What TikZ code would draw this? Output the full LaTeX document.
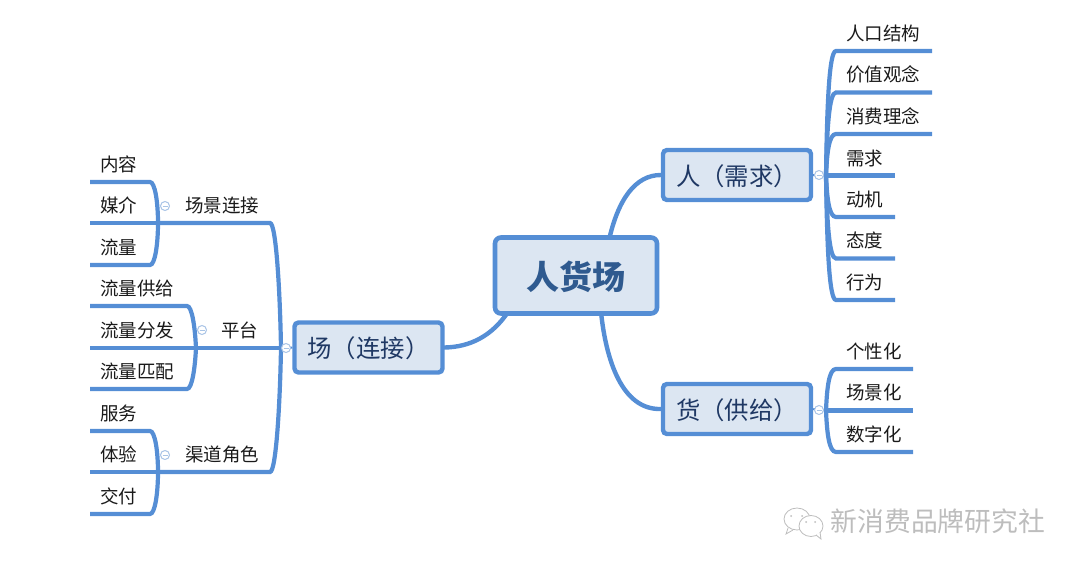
\documentclass[tikz,border=0pt]{standalone}
\usepackage{fontspec}
\setmainfont{Noto Sans CJK SC}
\definecolor{linec}{HTML}{558ED5}
\definecolor{boxfill}{HTML}{DCE6F2}
\definecolor{titlec}{HTML}{2F5A8F}
\definecolor{branchc}{HTML}{1F3864}
\definecolor{leafc}{HTML}{1A1A1A}
\definecolor{markc}{HTML}{A9C4E6}
\definecolor{wmc}{HTML}{BDBDBD}
\pgfdeclarelayer{back}
\pgfsetlayers{back,main}
\newcommand{\nudge}[1]{\raisebox{-1pt}[\height][\depth]{#1}}
\tikzset{
  rootbox/.style={draw=linec,fill=boxfill,line width=4.6pt,rounded corners=6pt,minimum width=162pt,minimum height=76pt,inner sep=0pt,text=titlec,font=\fontsize{33}{33}\selectfont\bfseries},
  branchbox/.style={draw=linec,fill=boxfill,line width=4.4pt,rounded corners=4pt,minimum width=148pt,minimum height=50pt,inner sep=0pt,text=branchc,font=\fontsize{24.4}{24.4}\selectfont},
  leaftext/.style={anchor=base west,inner sep=0pt,text=leafc,font=\fontsize{18.5}{18.5}\selectfont},
  conn/.style={draw=linec,line width=4.4pt,line cap=round},
  tree/.style={draw=linec,line width=4.2pt},
  collapse/.style={circle,draw=markc,fill=white,line width=1pt,minimum size=9pt,inner sep=0pt,path picture={\draw[markc,line width=.9pt] ([xshift=-2.5pt]path picture bounding box.center)--([xshift=2.5pt]path picture bounding box.center);}},
  wmtext/.style={anchor=base west,inner sep=0pt,text=wmc,font=\fontsize{26.8}{26.8}\selectfont}
}
\begin{document}
\begin{tikzpicture}[x=1pt,y=-1pt]
\useasboundingbox (0,0) rectangle (1080,570);
% main nodes
\node[rootbox] (root) at (576,275.5) {\nudge{人货场}};
\node[branchbox] (ren) at (737,175) {\nudge{人（需求）}};
\node[branchbox] (huo) at (737,409) {\nudge{货（供给）}};
\node[branchbox] (chang) at (368.5,347.5) {\nudge{场（连接）}};
% junctions
\coordinate (jr) at (826,175.5);
\coordinate (jg) at (826,410.5);
\coordinate (jc) at (281,348);
% trees: right
\foreach \n/\y/\xe/\ty/\t in {a1/51/932/40/人口结构,a2/92.5/932/81.5/价值观念,a3/134/932/123/消费理念,a5/217/895/206/动机,a6/258.5/895/247.5/态度,a7/300/895/289/行为}{
  \coordinate (\n s) at (836,\y);
  \coordinate (\n e) at (\xe,\y);
  \node[leaftext] (\n t) at (846,\ty) {\t};
  \draw[tree] (jr) .. controls (827,{0.55*\y+0.45*175}) and (829,\y) .. (\n s) -- (\n e);
}
\coordinate (a4e) at (895,175.5);
\node[leaftext] (a4t) at (846,165) {需求};
\draw[tree] (jr) -- (a4e);
\foreach \n/\y/\ty/\t in {b1/369/358/个性化,b3/452/441/数字化}{
  \coordinate (\n s) at (836,\y);
  \coordinate (\n e) at (913,\y);
  \node[leaftext] (\n t) at (846,\ty) {\t};
  \draw[tree] (jg) .. controls (827,{0.55*\y+0.45*410}) and (829,\y) .. (\n s) -- (\n e);
}
\coordinate (b2e) at (913,410.5);
\node[leaftext] (b2t) at (846,399.5) {场景化};
\draw[tree] (jg) -- (b2e);
% trees: left leaves
\foreach \n/\jx/\jy/\xe/\y/\t in {c1/158/223/150/182/内容,c3/158/223/150/265/流量,d1/196/348/187/306/流量供给,d3/196/348/187/389/流量匹配,e1/158/472/150/431/服务,e3/158/472/150/514/交付}{
  \coordinate (\n s) at (90,\y);
  \coordinate (\n e) at (\xe,\y);
  \node[leaftext] (\n t) at (100,{\y-11}) {\t};
  \draw[tree] (\n s) -- (\n e) .. controls ({\xe+5},\y) and ({\xe+8},{0.5*\y+0.5*\jy}) .. (\jx,\jy);
}
\foreach \n/\xe/\y/\t in {c2/158/223/媒介,d2/196/348/流量分发,e2/158/472/体验}{
  \coordinate (\n s) at (90,\y);
  \coordinate (\n e) at (\xe,\y);
  \node[leaftext] (\n t) at (100,{\y-11}) {\t};
  \draw[tree] (\n s) -- (\n e);
}
% left sub-branches
\node[leaftext] (ct) at (185,212) {场景连接};
\node[leaftext] (dt) at (221,337) {平台};
\node[leaftext] (et) at (185,461) {渠道角色};
\coordinate (cs) at (158,223);\coordinate (cm) at (270,223);
\coordinate (ds) at (196,348);
\coordinate (es) at (158,472);\coordinate (em) at (270,472);
\draw[tree] (cs) -- (cm) .. controls (276,223) and (280,290) .. (jc);
\draw[tree] (es) -- (em) .. controls (276,472) and (280,405) .. (jc);
\draw[tree] (ds) -- (jc);
% connectors behind the boxes
\begin{pgfonlayer}{back}
\draw[conn] (609,240) .. controls (618,200) and (635,175) .. (ren.west);
\draw[conn] (601,312) .. controls (606,360) and (622,410) .. (huo.west);
\draw[conn] (508,312) .. controls (492,336) and (470,347) .. (chang.east);
\draw[draw=linec,line width=2pt] (ren.east) -- (jr);
\draw[draw=linec,line width=2pt] (huo.east) -- (jg);
\draw[draw=linec,line width=2pt] (chang.west) -- (jc);
\end{pgfonlayer}
% collapse marks
\node[collapse] (m1) at (819,175) {};
\node[collapse] (m2) at (819,410) {};
\node[collapse] (m3) at (286,348) {};
\node[collapse] (m4) at (165,206) {};
\node[collapse] (m5) at (202,330) {};
\node[collapse] (m6) at (165,455) {};
% watermark
\node[wmtext] (wm) at (830.5,531.5) {新消费品牌研究社};
\draw[wmc,line width=.8pt,fill=white] (797,519) ellipse (13 and 11);
\draw[wmc,line width=.8pt] (788,528) -- (786,534) -- (793,530);
\draw[wmc,line width=.8pt,fill=white] (811,526) ellipse (12 and 10.5);
\draw[wmc,line width=.8pt,fill=white] (816,535) -- (821,539) -- (820,532);
\fill[wmc] (791,516) circle (1) (802,516) circle (1) (806,522) circle (1) (815,522) circle (1);
\end{tikzpicture}
\end{document}
